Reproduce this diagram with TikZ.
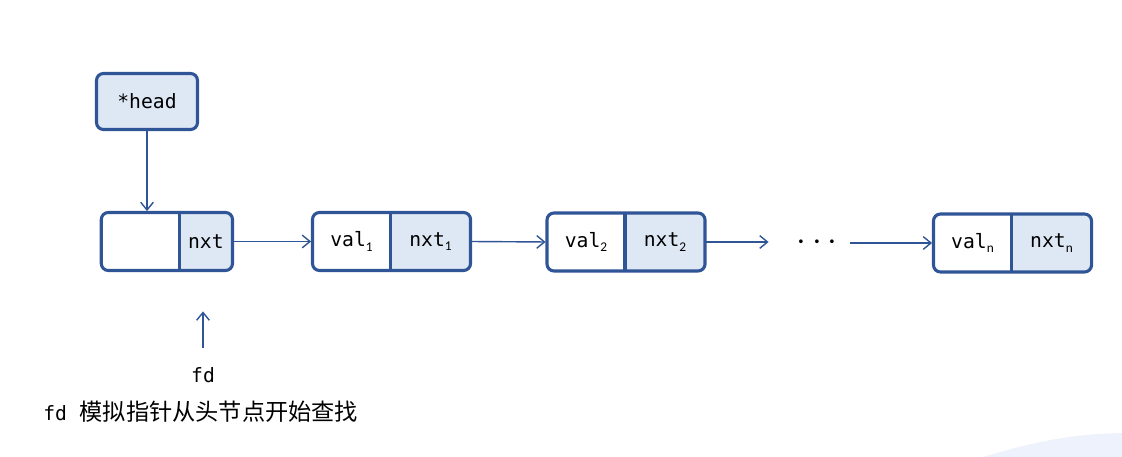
\documentclass[tikz,border=0pt]{standalone}
\usepackage{fontspec}
\setmonofont{DejaVu Sans Mono}
\setsansfont{Carlito}
\newfontfamily\cjk{Noto Sans CJK SC}
\usepackage{tikz}
\usetikzlibrary{arrows.meta, positioning, backgrounds}
\definecolor{boxline}{HTML}{2F5597}
\definecolor{boxfill}{HTML}{DEE8F5}
\definecolor{cornerfill}{HTML}{EEF2FC}
\newcommand{\idx}[1]{\raisebox{-0.4ex}{\fontsize{9.5}{10}\selectfont\sffamily #1}}
\newcommand{\bigdot}{{\fontsize{26}{26}\selectfont$\cdot$}}
\tikzstyle{cell} = [rectangle, inner sep=0pt, outer sep=0pt, minimum height=1.45cm, font=\fontsize{14}{17}\selectfont\ttfamily]
\tikzstyle{valcell} = [cell, minimum width=1.95cm]
\tikzstyle{nxtcell} = [cell, minimum width=2cm]
\tikzstyle{frame} = [draw=boxline, line width=2.2pt, rounded corners=5pt]
\tikzstyle{divider} = [draw=boxline, line width=2.2pt]
\tikzstyle{headbox} = [cell, frame, fill=boxfill, minimum width=2.525cm, minimum height=1.4cm]
\tikzstyle{link} = [draw=boxline, line width=1pt, shorten >=1pt, -{Straight Barb[length=5.5pt,width=9pt]}]
\tikzstyle{note} = [inner sep=0pt, font=\fontsize{14}{17}\selectfont\ttfamily]

\begin{document}
\begin{tikzpicture}[x=0.025cm, y=-0.025cm]
	\useasboundingbox (0,0) rectangle (1122,457);
	\fill[cornerfill] (983,457) .. controls (1040,440) and (1075,434) .. (1122,433) -- (1122,457) -- cycle;
	
	\node[headbox] (head) at (147,101.5) {*head};
	
	% list nodes
	\node[valcell] (v0) at (140.3,241.5) {};
	\node[nxtcell, minimum width=1.33cm, right=0pt of v0] (p0) {nxt};
	\node[valcell] (v1) at (351.5,241.5) {val\idx{1}};
	\node[nxtcell, right=0pt of v1] (p1) {nxt\idx{1}};
	\node[valcell] (v2) at (586,242) {val\idx{2}};
	\node[nxtcell, right=0pt of v2] (p2) {nxt\idx{2}};
	\node[note] (dots) at (817,243) {\bigdot\hspace{4pt}\bigdot\hspace{4pt}\bigdot};
	\node[valcell] (vn) at (972.5,243) {val\idx{n}};
	\node[nxtcell, right=0pt of vn] (pn) {nxt\idx{n}};
	
	\foreach \v/\p in {v0/p0, v1/p1, v2/p2, vn/pn}{
		\begin{scope}[on background layer]
			\begin{scope}
				\clip[rounded corners=5pt] (\v.north west) rectangle (\p.south east);
				\fill[boxfill] (\p.north west) rectangle (\p.south east);
			\end{scope}
		\end{scope}
		\draw[frame] (\v.north west) rectangle (\p.south east);
		\draw[divider] (\p.north west) -- (\p.south west);
	}
	
	% pointers
	\coordinate (gapl) at (770,242);
	\coordinate (gapr) at (850,243);
	\draw[link] (head.south) -- (head.south |- v0.north);
	\draw[link] (p0.east) -- (v1.west);
	\draw[link] (p1.east) -- (v2.west);
	\draw[link] (p2.east) -- (gapl);
	\draw[link] (gapr) -- (vn.west);
	
	\node[note] (fd) at (203,375) {fd};
	\coordinate (fdtip) at (203,310);
	\draw[link] (fd.center) ++(0,-27) -- (fdtip);
	
	\node[note, anchor=west] (caption) at (43,412) {fd\hspace{9pt}{\cjk\fontsize{16.5}{19}\selectfont 模拟指针从头节点开始查找}};
\end{tikzpicture}
\end{document}
